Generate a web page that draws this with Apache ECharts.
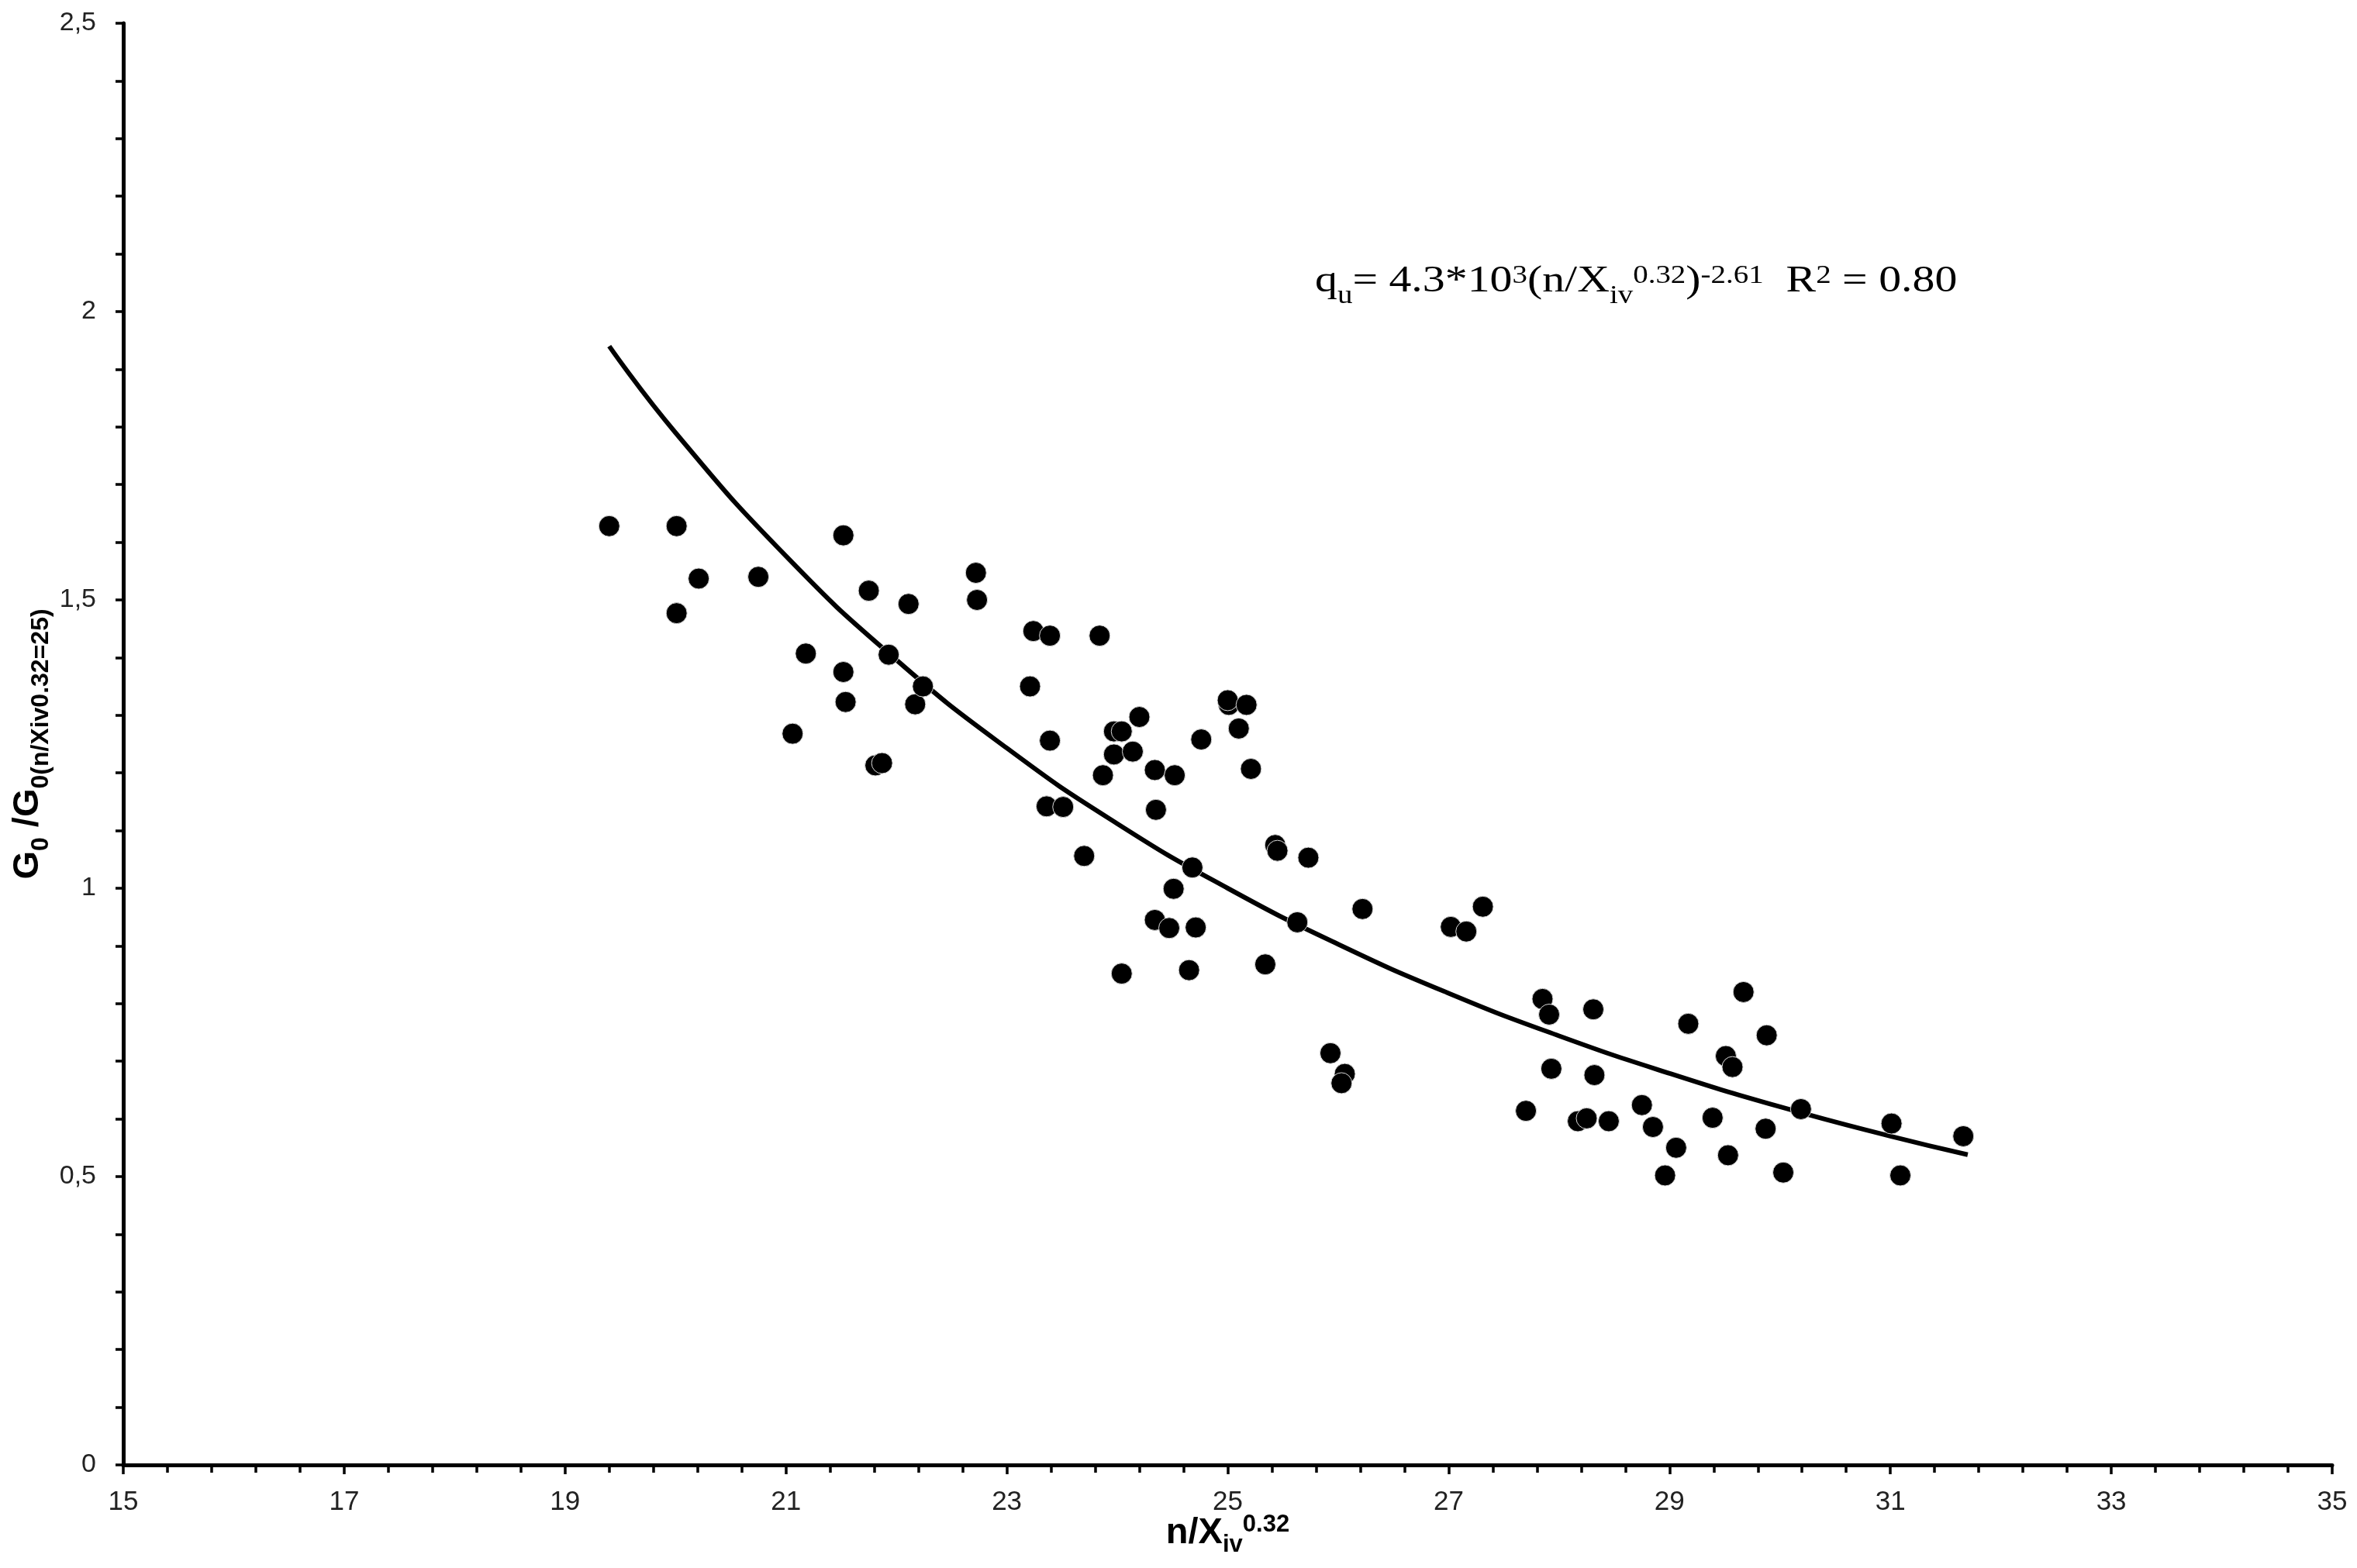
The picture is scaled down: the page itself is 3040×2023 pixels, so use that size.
<!DOCTYPE html>
<html>
<head>
<meta charset="utf-8">
<title>G0 / G0(25) vs n/Xiv^0.32</title>
<script src="https://cdn.jsdelivr.net/npm/echarts@6/dist/echarts.min.js"></script>
<style>
  html, body { margin: 0; padding: 0; background: #fff; }
  #chart { width: 3040px; height: 2023px; }
</style>
</head>
<body>
<div id="chart"></div>
<script>
const pointX = [
  19.40, 20.01, 20.01, 20.21, 20.75, 21.18, 21.06, 21.52, 21.52, 21.54,
  21.75, 21.81, 21.87, 21.93, 22.11, 22.17, 22.24, 22.72, 22.73, 23.21,
  23.24, 23.39, 23.39, 23.36, 23.51, 23.70, 23.84, 23.87, 23.97, 24.04,
  23.97, 24.14, 24.20, 24.34, 24.35, 24.52, 24.34, 24.47, 24.51, 24.68,
  24.71, 24.65, 24.04, 24.76, 25.01, 25.00, 25.17, 25.10, 25.21, 25.43,
  25.45, 25.73, 25.63, 25.34, 26.22, 25.93, 26.06, 26.03, 27.02, 27.16,
  27.31, 27.70, 27.85, 27.91, 27.93, 28.31, 28.32, 28.17, 28.25, 28.45,
  28.75, 28.85, 28.96, 29.06, 29.17, 29.39, 29.51, 29.57, 29.53, 29.67,
  29.88, 29.87, 30.03, 30.19, 31.01, 31.09, 31.66
];
const pointY = [
  1.628, 1.628, 1.477, 1.537, 1.540, 1.407, 1.268, 1.612, 1.375, 1.323,
  1.516, 1.213, 1.217, 1.405, 1.493, 1.319, 1.350, 1.547, 1.500, 1.350,
  1.446, 1.438, 1.256, 1.142, 1.141, 1.056, 1.438, 1.196, 1.272, 1.272,
  1.232, 1.237, 1.297, 1.205, 1.136, 1.196, 0.945, 0.931, 0.999, 1.036,
  0.932, 0.858, 0.852, 1.258, 1.318, 1.326, 1.318, 1.277, 1.207, 1.075,
  1.065, 1.053, 0.941, 0.868, 0.964, 0.714, 0.678, 0.662, 0.933, 0.925,
  0.968, 0.614, 0.808, 0.781, 0.687, 0.790, 0.676, 0.596, 0.601, 0.596,
  0.624, 0.586, 0.502, 0.550, 0.765, 0.602, 0.709, 0.690, 0.537, 0.820,
  0.745, 0.583, 0.507, 0.617, 0.592, 0.502, 0.570
];

// power-law trend line, sampled from the figure
const curveX = [19.4, 20, 21, 22, 23, 24, 25, 26, 27, 28, 29, 30, 31, 31.7];
const curveY = [1.94, 1.79, 1.576, 1.396, 1.243, 1.112, 1.0, 0.903, 0.818, 0.744, 0.679, 0.621, 0.570, 0.538];

const yTickLabels = ['0', '0,5', '1', '1,5', '2', '2,5'];

const xTitle = '{m|n/X}{sub|iv}{sup|0.32}';
const yTitle = '{m|G}{sub|0}{m| /G}{sub|0(n/Xiv0.32=25)}';
const equation = '{m|q}{sub|u}{m|= 4.3*10}{sup|3}{m|(n/X}{sub|iv}{sup|0.32}{m|)}{sup|-2.61}{m|  R}{sup|2}{m| = 0.80}';

const SANS = '"Liberation Sans", Arial, sans-serif';
const SERIF = '"Liberation Serif", "Times New Roman", serif';

const chart = echarts.init(document.getElementById('chart'));

const scatterData = pointX.map((x, i) => [x, pointY[i]]);
const curveData = curveX.map((x, i) => [x, curveY[i]]);

chart.setOption({
  animation: false,
  backgroundColor: '#fff',
  grid: { left: 159, right: 32, top: 30, bottom: 133, outerBoundsMode: 'none' },
  xAxis: {
    type: 'value', min: 15, max: 35, interval: 2,
    axisLine: { show: true, onZero: false, lineStyle: { color: '#000', width: 5 } },
    axisTick: { show: true, length: 12, lineStyle: { color: '#000', width: 3.5 } },
    minorTick: { show: true, splitNumber: 5, length: 10, lineStyle: { color: '#000', width: 3.5 } },
    splitLine: { show: false },
    axisLabel: { fontFamily: SANS, fontSize: 35, color: '#222', margin: 31 },
    name: xTitle,
    nameLocation: 'middle',
    nameGap: 58,
    nameMoveOverlap: false,
    nameTextStyle: {
      rich: {
        m: { fontFamily: SANS, fontWeight: 'bold', fontSize: 47, color: '#000' },
        sub: { fontFamily: SANS, fontWeight: 'bold', fontSize: 31, color: '#000', padding: [30, 0, 0, 0] },
        sup: { fontFamily: SANS, fontWeight: 'bold', fontSize: 31, color: '#000', padding: [0, 0, 22, 0] }
      }
    }
  },
  yAxis: {
    type: 'value', min: 0, max: 2.5, interval: 0.5,
    axisLine: { show: true, onZero: false, lineStyle: { color: '#000', width: 5 } },
    axisTick: { show: true, length: 10, lineStyle: { color: '#000', width: 3.5 } },
    minorTick: { show: true, splitNumber: 5, length: 10, lineStyle: { color: '#000', width: 3.5 } },
    splitLine: { show: false },
    axisLabel: {
      fontFamily: SANS, fontSize: 34, color: '#222', margin: 35,
      formatter: v => yTickLabels[Math.round(v / 0.5)]
    },
    name: yTitle,
    nameLocation: 'middle',
    nameRotate: 90,
    nameGap: 90,
    nameMoveOverlap: false,
    nameTextStyle: {
      rich: {
        m: { fontFamily: SANS, fontWeight: 'bold', fontSize: 47, color: '#000' },
        sub: { fontFamily: SANS, fontWeight: 'bold', fontSize: 32, color: '#000', padding: [34, 0, 0, 0] }
      }
    }
  },
  graphic: [{
    type: 'text',
    x: 1696, y: 363,
    scaleX: 1.18,
    silent: true,
    style: {
      text: equation,
      align: 'left',
      verticalAlign: 'middle',
      fill: '#000',
      rich: {
        m: { fontFamily: SERIF, fontSize: 49, fill: '#000', color: '#000' },
        sub: { fontFamily: SERIF, fontSize: 33, fill: '#000', color: '#000', padding: [38, 0, 0, 0] },
        sup: { fontFamily: SERIF, fontSize: 33, fill: '#000', color: '#000', padding: [0, 0, 14, 0] }
      }
    }
  }],
  series: [
    {
      name: 'fit',
      type: 'line',
      data: curveData,
      smooth: true,
      showSymbol: false,
      silent: true,
      z: 1,
      lineStyle: { color: '#000', width: 6 }
    },
    {
      name: 'data',
      type: 'scatter',
      data: scatterData,
      symbol: 'circle',
      symbolSize: 27,
      z: 2,
      itemStyle: { color: '#000', borderColor: '#d8d8d8', borderWidth: 1, opacity: 1 }
    }
  ]
});
</script>
</body>
</html>
